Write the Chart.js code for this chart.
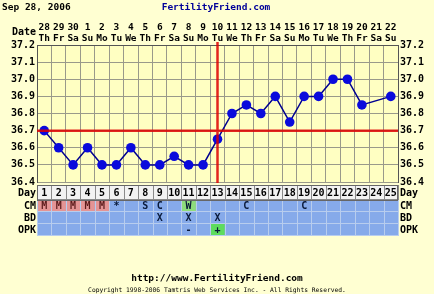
<!DOCTYPE html>
<html>
<head>
<meta charset="utf-8">
<script src="https://cdn.jsdelivr.net/npm/chart.js@4"></script>
<style>
  html, body { margin: 0; padding: 0; background: #FFFFD2; }
  canvas { display: block; }
</style>
</head>
<body>
<canvas id="chart" width="434" height="294"></canvas>
<script>
// cycle data
const days = ['1','2','3','4','5','6','7','8','9','10','11','12','13','14','15','16','17','18','19','20','21','22','23','24','25'];
const dates = ['28','29','30','1','2','3','4','5','6','7','8','9','10','11','12','13','14','15','16','17','18','19','20','21','22'];
const weekdays = ['Th','Fr','Sa','Su','Mo','Tu','We','Th','Fr','Sa','Su','Mo','Tu','We','Th','Fr','Sa','Su','Mo','Tu','We','Th','Fr','Sa','Su'];
const temps = [36.7, 36.6, 36.5, 36.6, 36.5, 36.5, 36.6, 36.5, 36.5, 36.55, 36.5, 36.5, 36.65, 36.8, 36.85, 36.8, 36.9, 36.75, 36.9, 36.9, 37.0, 37.0, 36.85, null, 36.9];
const cm  = ['M','M','M','M','M','*','','S','C','','W','','','','C','','','','C','','','','','',''];
const bd  = ['','','','','','','','','X','','X','','X','','','','','','','','','','','',''];
const opk = ['','','','','','','','','','','-','','+','','','','','','','','','','','',''];
const coverline = 36.7;
const ovulationDay = 13;
const tempTicks = [36.4, 37.2];

const FONT = 'DejaVu Sans Mono';

// colour for special table cells
function cellColor(row, v) {
  if (row === 'CM' && v === 'M') return '#E49494';
  if (row === 'CM' && v === 'W') return '#8EDC7C';
  if (row === 'OPK' && v === '+') return '#5EDC5E';
  return null;
}

const extras = {
  id: 'extras',
  beforeDraw(chart) {
    const { ctx, chartArea: a } = chart;
    ctx.save();
    ctx.fillStyle = '#FFFFD2';
    ctx.fillRect(0, 0, chart.width, chart.height);
    ctx.fillStyle = '#FFFFC2';
    ctx.fillRect(a.left, a.top, a.right - a.left, a.bottom - a.top);
    ctx.restore();
  },
  afterDatasetsDraw(chart) {
    const { ctx, chartArea: a, scales } = chart;
    const y = scales.y.getPixelForValue(coverline);
    const x = scales.x.getPixelForValue(ovulationDay - 1);
    ctx.save();
    ctx.strokeStyle = 'rgba(222,0,0,0.85)';
    ctx.lineWidth = 2.5;
    ctx.beginPath();
    ctx.moveTo(a.left, y); ctx.lineTo(a.right, y);
    ctx.moveTo(x, a.top - 3); ctx.lineTo(x, a.bottom + 1);
    ctx.stroke();
    ctx.restore();
  },
  afterDraw(chart) {
    const { ctx, chartArea: a, scales } = chart;
    const xs = scales.x;
    const half = (xs.getPixelForValue(1) - xs.getPixelForValue(0)) / 2;
    ctx.save();

    // header texts
    ctx.textBaseline = 'middle';
    ctx.font = 'bold 9.5px ' + FONT;
    ctx.fillStyle = '#000';
    ctx.textAlign = 'left';
    ctx.fillText('Sep 28, 2006', 2, 8);
    ctx.fillStyle = '#000099';
    ctx.textAlign = 'center';
    ctx.fillText('FertilityFriend.com', 216, 8);
    ctx.fillStyle = '#000';
    ctx.font = 'bold 10px ' + FONT;
    ctx.textAlign = 'right';
    ctx.fillText('Date', a.left - 1, 32);

    // table rows under the plot
    const rows = [
      { name: 'Day', vals: days, top: 185, h: 15, bg: '#F2F2F2', line: '#8A8A8A' },
      { name: 'CM', vals: cm, top: 200, h: 12, bg: '#86AAEA', line: '#B8CDEE' },
      { name: 'BD', vals: bd, top: 212, h: 12, bg: '#86AAEA', line: '#B8CDEE' },
      { name: 'OPK', vals: opk, top: 224, h: 12, bg: '#86AAEA', line: '#B8CDEE' }
    ];
    rows.forEach(r => {
      ctx.fillStyle = r.bg;
      ctx.fillRect(a.left, r.top, a.right - a.left, r.h);
      r.vals.forEach((v, i) => {
        const cx = xs.getPixelForValue(i);
        const c = cellColor(r.name, v);
        if (c) {
          ctx.fillStyle = c;
          ctx.fillRect(cx - half, r.top, half * 2, r.h);
        }
      });
      ctx.strokeStyle = r.line;
      ctx.lineWidth = 1;
      ctx.beginPath();
      for (let i = 0; i <= r.vals.length; i++) {
        const gx = Math.round(xs.getPixelForValue(i) - half) + 0.5;
        ctx.moveTo(gx, r.top); ctx.lineTo(gx, r.top + r.h);
      }
      ctx.moveTo(a.left, r.top + r.h - 0.5); ctx.lineTo(a.right, r.top + r.h - 0.5);
      ctx.stroke();
      ctx.font = 'bold 10px ' + FONT;
      ctx.textAlign = 'center';
      r.vals.forEach((v, i) => {
        if (!v) return;
        ctx.fillStyle = r.name === 'CM' && v === 'M' ? '#5A1A1A' : (r.name === 'Day' ? '#000' : '#0A1A3A');
        ctx.fillText(v, xs.getPixelForValue(i), r.top + r.h / 2 + 0.5);
      });
      ctx.fillStyle = '#000';
      ctx.textAlign = 'right';
      ctx.fillText(r.name, a.left - 1, r.top + r.h / 2 + 0.5);
      ctx.textAlign = 'left';
      ctx.fillText(r.name, a.right + 2, r.top + r.h / 2 + 0.5);
    });
    ctx.strokeStyle = '#666';
    ctx.strokeRect(a.left + 0.5, 185.5, a.right - a.left - 1, 15);

    // footer
    ctx.fillStyle = '#000';
    ctx.textAlign = 'center';
    ctx.font = 'bold 9.5px ' + FONT;
    ctx.fillText('http://www.FertilityFriend.com', 217, 279);
    ctx.font = '6.3px ' + FONT;
    ctx.fillText('Copyright 1998-2006 Tamtris Web Services Inc. - All Rights Reserved.', 217, 290);
    ctx.restore();
  }
};

const tickFont = { family: FONT, size: 10, weight: 'bold', lineHeight: 1.1 };
const topFont = { family: FONT, size: 9.5, weight: 'bold', lineHeight: 1.15 };

new Chart(document.getElementById('chart'), {
  type: 'line',
  data: {
    labels: days,
    datasets: [{
      data: temps,
      borderColor: '#000090',
      borderWidth: 1.5,
      backgroundColor: '#0A0ADC',
      pointBackgroundColor: '#0A0ADC',
      pointBorderColor: '#0A0ADC',
      pointRadius: 4.8,
      pointBorderWidth: 0,
      tension: 0,
      spanGaps: true,
      segment: {
        borderDash: s => (s.p1DataIndex - s.p0DataIndex > 1 ? [3, 3] : undefined),
        borderWidth: s => (s.p1DataIndex - s.p0DataIndex > 1 ? 1 : undefined)
      }
    }]
  },
  options: {
    responsive: false,
    animation: false,
    layout: { padding: { top: 0, left: 0, right: 0, bottom: 112 } },
    plugins: { legend: { display: false }, tooltip: { enabled: false } },
    scales: {
      x: {
        position: 'top',
        offset: true,
        grid: { offset: true, color: '#9A9A8A', drawTicks: false },
        border: { color: '#555' },
        ticks: {
          autoSkip: false,
          maxRotation: 0,
          padding: 1,
          color: '#000',
          font: topFont,
          callback: (v, i) => [dates[i], weekdays[i]]
        },
        afterFit: s => { s.height = 45; }
      },
      y: {
        position: 'left',
        min: tempTicks[0],
        max: tempTicks[1],
        grid: { color: '#9A9A8A', drawTicks: false },
        border: { color: '#555' },
        ticks: { stepSize: 0.1, padding: 2, color: '#000', font: tickFont, callback: v => Number(v).toFixed(1) },
        afterFit: s => { s.width = 37; }
      },
      y2: {
        position: 'right',
        min: tempTicks[0],
        max: tempTicks[1],
        grid: { display: false, drawTicks: false },
        border: { color: '#555' },
        ticks: { stepSize: 0.1, padding: 2, color: '#000', font: tickFont, callback: v => Number(v).toFixed(1) },
        afterFit: s => { s.width = 36; }
      }
    }
  },
  plugins: [extras]
});
</script>
</body>
</html>
